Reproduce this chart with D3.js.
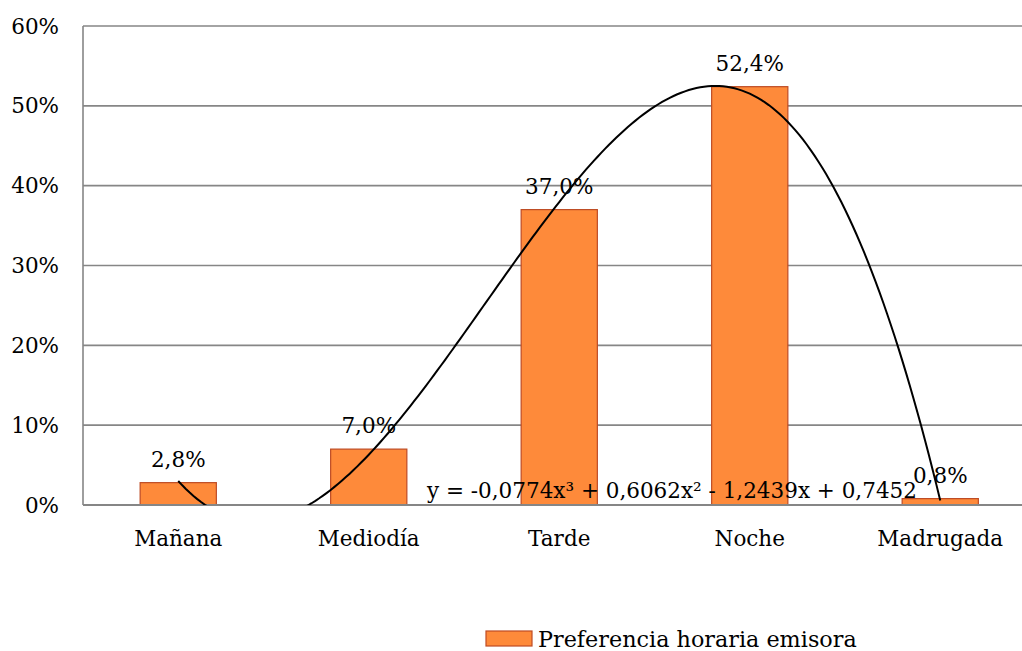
<!DOCTYPE html>
<html>
<head>
<meta charset="utf-8">
<script src="https://cdn.jsdelivr.net/npm/d3@7"></script>
<style>
  body { margin: 0; background: #fff; }
  svg text { font-family: "DejaVu Serif", "Liberation Serif", serif; fill: #000; }
</style>
</head>
<body>
<div id="chart"></div>
<script>
// data
const categories = ["Mañana", "Mediodía", "Tarde", "Noche", "Madrugada"];
const values = [0.028, 0.070, 0.370, 0.524, 0.008];
const yTicks = [0, 0.1, 0.2, 0.3, 0.4, 0.5, 0.6];
// trendline coefficients as printed on the chart (x^3, x^2, x, 1)
const trendCoef = [-0.0774, 0.6062, -1.2439, 0.7452];
const trendLabel = "y = -0,0774x³ + 0,6062x² - 1,2439x + 0,7452";
const seriesName = "Preferencia horaria emisora";

const width = 1022, height = 651;
const margin = {top: 26, left: 83, bottom: 146};
const fs = 21.5;

const svg = d3.select("#chart").append("svg")
    .attr("width", width).attr("height", height);

const x = d3.scaleBand()
    .domain(categories)
    .range([margin.left, margin.left + 5 * 190.5])
    .paddingInner(0.6).paddingOuter(0.3);

const y = d3.scaleLinear()
    .domain([0, 0.6])
    .range([height - margin.bottom, margin.top]);

const pct = d3.format(".0%");
const lbl = v => d3.format(".1%")(v).replace(".", ",");

// gridlines
svg.append("g")
    .selectAll("line")
    .data(yTicks.filter(d => d > 0))
    .join("line")
    .attr("x1", margin.left).attr("x2", width)
    .attr("y1", d => y(d)).attr("y2", d => y(d))
    .attr("stroke", "#868686").attr("stroke-width", 1.6);

// y axis
svg.append("line")
    .attr("x1", margin.left).attr("x2", margin.left)
    .attr("y1", y(0.6)).attr("y2", y(0))
    .attr("stroke", "#868686").attr("stroke-width", 1.6);

svg.append("g")
    .selectAll("text")
    .data(yTicks)
    .join("text")
    .attr("x", 59).attr("y", d => y(d))
    .attr("dy", "0.35em")
    .attr("text-anchor", "end")
    .attr("font-size", fs)
    .text(d => pct(d));

// bars
svg.append("g")
    .selectAll("rect")
    .data(values)
    .join("rect")
    .attr("x", (d, i) => x(categories[i]))
    .attr("width", x.bandwidth())
    .attr("y", d => y(d))
    .attr("height", d => y(0) - y(d))
    .attr("fill", "#FE8A3A")
    .attr("stroke", "#BE4B24")
    .attr("stroke-width", 1.2);

// x axis line
svg.append("line")
    .attr("x1", margin.left).attr("x2", width)
    .attr("y1", y(0)).attr("y2", y(0))
    .attr("stroke", "#868686").attr("stroke-width", 2.2);

// category labels
svg.append("g")
    .selectAll("text")
    .data(categories)
    .join("text")
    .attr("x", d => x(d) + x.bandwidth() / 2)
    .attr("y", y(0) + 41)
    .attr("text-anchor", "middle")
    .attr("font-size", fs)
    .text(d => d);

// trendline, clipped to plot area
svg.append("clipPath").attr("id", "plotclip")
    .append("rect")
    .attr("x", margin.left).attr("y", y(0.6))
    .attr("width", width - margin.left).attr("height", y(0) - y(0.6));

const xNum = d3.scaleLinear()
    .domain([1, 5])
    .range([x(categories[0]) + x.bandwidth() / 2, x(categories[4]) + x.bandwidth() / 2]);
const poly = t => trendCoef[0] * t * t * t + trendCoef[1] * t * t + trendCoef[2] * t + trendCoef[3];
const trendPts = d3.range(1, 5.001, 0.02).map(t => [t, poly(t)]);

svg.append("path")
    .datum(trendPts)
    .attr("clip-path", "url(#plotclip)")
    .attr("fill", "none")
    .attr("stroke", "#000")
    .attr("stroke-width", 2)
    .attr("d", d3.line().x(d => xNum(d[0])).y(d => y(d[1])));

// data labels
svg.append("g")
    .selectAll("text")
    .data(values)
    .join("text")
    .attr("x", (d, i) => x(categories[i]) + x.bandwidth() / 2)
    .attr("y", d => y(d) - 16)
    .attr("text-anchor", "middle")
    .attr("font-size", fs)
    .text(d => lbl(d));

// trendline equation
svg.append("text")
    .attr("x", 427).attr("y", 498)
    .attr("font-size", fs)
    .text(trendLabel);

// legend
const lg = svg.append("g").attr("transform", "translate(486,631)");
lg.append("rect")
    .attr("width", 46).attr("height", 15)
    .attr("fill", "#FE8A3A").attr("stroke", "#BE4B24").attr("stroke-width", 1.2);
lg.append("text")
    .attr("x", 52).attr("y", 16)
    .attr("font-size", 22.3)
    .text(seriesName);
</script>
</body>
</html>
